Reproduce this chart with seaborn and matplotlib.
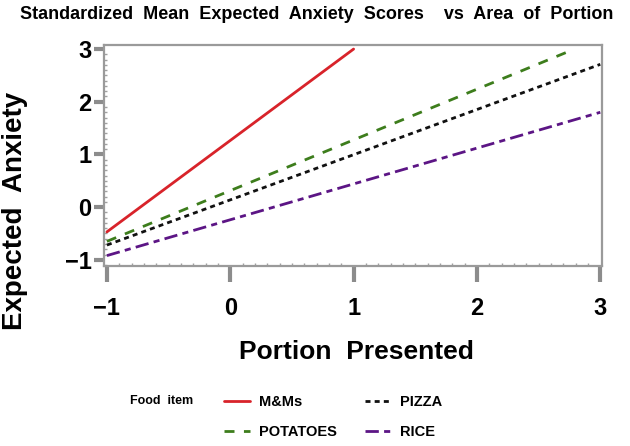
"""Standardized mean expected anxiety vs portion presented"""
import pandas as pd
import matplotlib.pyplot as plt
import seaborn as sns
from matplotlib.ticker import MultipleLocator

# line end points
foods = ["M&Ms", "POTATOES", "PIZZA", "RICE"]
portion_start = [-1.0, -1.0, -1.0, -1.0]
portion_end = [1.0, 2.77, 3.0, 3.0]
anxiety_start = [-0.47, -0.65, -0.72, -0.92]
anxiety_end = [3.0, 2.98, 2.71, 1.80]
x_ticks = [-1, 0, 1, 2, 3]
y_ticks = [-1, 0, 1, 2, 3]

rows = []
for f, x0, x1, y0, y1 in zip(foods, portion_start, portion_end, anxiety_start, anxiety_end):
    rows.append({"food": f, "portion": x0, "anxiety": y0})
    rows.append({"food": f, "portion": x1, "anxiety": y1})
df = pd.DataFrame(rows)

sns.set_style("white")
plt.rcParams["font.family"] = ["Liberation Sans", "DejaVu Sans"]
plt.rcParams["font.weight"] = "bold"
for k in ["text.color", "axes.labelcolor", "xtick.color", "ytick.color"]:
    plt.rcParams[k] = "black"

palette = {"M&Ms": "#d8232a", "POTATOES": "#3d7d1c", "PIZZA": "#111111", "RICE": "#5c1585"}
dashes = {"M&Ms": "", "POTATOES": (3.6, 3.4), "PIZZA": (1.8, 1.5), "RICE": (4.8, 1.9, 2.2, 1.9)}
LW = 2.0

fig = plt.figure(figsize=(6.3, 4.46), dpi=100)
ax = fig.add_axes([0.165, 0.404, 0.791, 0.495])
sns.lineplot(data=df, x="portion", y="anxiety", hue="food", style="food",
             palette=palette, dashes=dashes, hue_order=foods, style_order=foods,
             linewidth=LW, ax=ax, legend=False)

ax.set_xlim(-1.024, 3.016)
ax.set_ylim(-1.114, 3.076)
ax.set_xticks(x_ticks)
ax.set_yticks(y_ticks)
ax.xaxis.set_minor_locator(MultipleLocator(0.1))
ax.yaxis.set_minor_locator(MultipleLocator(0.1))
ax.tick_params(bottom=True, left=True, which="both")
ax.tick_params(axis="x", which="major", direction="out", length=11.5, width=3,
               color="#8c8c8c", labelsize=17, pad=11)
ax.tick_params(axis="y", which="major", direction="out", length=7, width=3,
               color="#8c8c8c", labelsize=17, pad=2)
ax.tick_params(which="minor", direction="in", length=2.5, width=1, color="#a0a0a0")
for lab in ax.get_xticklabels() + ax.get_yticklabels():
    lab.set_fontweight("bold")
for s in ax.spines.values():
    s.set_color("#9a9a9a")
    s.set_linewidth(1.6)

ax.set_xlabel("Portion  Presented", fontsize=19, fontweight="bold")
ax.set_ylabel("Expected  Anxiety", fontsize=20, fontweight="bold")
ax.xaxis.set_label_coords(356 / 630, 1 - 352 / 446, transform=fig.transFigure)
ax.yaxis.set_label_coords(15 / 630, 1 - 211 / 446, transform=fig.transFigure)
ax.xaxis.label.set_va("center")
ax.yaxis.label.set_va("center")
fig.text(0.502, 0.968, "Standardized  Mean  Expected  Anxiety  Scores    vs  Area  of  Portion",
         ha="center", va="center", fontsize=13, fontweight="bold")

# legend below the plot
handles = []
for f in ["M&Ms", "POTATOES", "PIZZA", "RICE"]:
    h, = ax.plot([], [], color=palette[f], lw=LW, linestyle=(0, dashes[f]) if dashes[f] else "-")
    handles.append(h)
fig.legend(handles, ["M&Ms", "POTATOES", "PIZZA", "RICE"], ncol=2, frameon=False,
           loc="center left", bbox_to_anchor=(0.335, 0.065),
           handlelength=1.8, columnspacing=1.9, labelspacing=1.1, handletextpad=0.6,
           prop={"weight": "bold", "size": 10.5})
fig.text(0.207, 0.1, "Food  item", ha="left", va="center", fontsize=9, fontweight="bold")

plt.savefig("out.png", dpi=100)
